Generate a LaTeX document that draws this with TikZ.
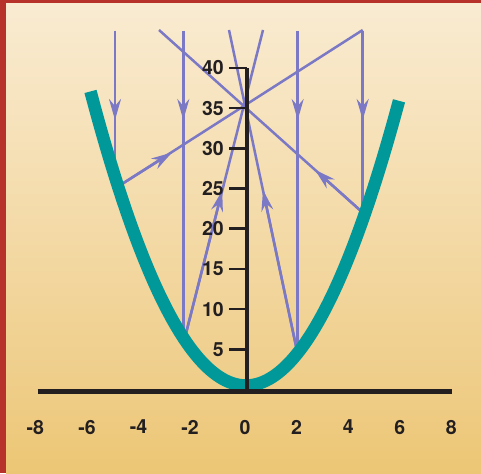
\documentclass[tikz,border=0pt]{standalone}
\usepackage{fontspec}
\setmainfont{TeX Gyre Heros}
\usetikzlibrary{arrows.meta}
\definecolor{raycol}{RGB}{123,121,197}
\definecolor{parcol}{RGB}{0,152,152}
\definecolor{inkcol}{RGB}{35,31,32}
\definecolor{framecol}{RGB}{182,50,42}
\definecolor{bgA}{RGB}{247,228,192}
\definecolor{bgB}{RGB}{239,206,138}
\definecolor{bgC}{RGB}{228,179,62}
\pgfdeclareverticalshading{bgshade}{100bp}{color(0bp)=(bgC); color(35bp)=(bgB); color(65bp)=(bgA); color(100bp)=(white)}
\begin{document}
\begin{tikzpicture}[x=1pt,y=-1pt,
  ray/.style={draw=raycol, line width=2.5pt},
  arr/.style={-{Stealth[length=21pt,width=12pt,inset=7pt]}},
  parabola/.style={draw=parcol, line width=12.5pt},
  axisline/.style={draw=inkcol, line width=4pt},
  xaxisline/.style={draw=inkcol, line width=4.7pt},
  tickline/.style={draw=inkcol, line width=2.5pt},
  lab/.style={text=inkcol, font=\fontsize{19.5}{20}\selectfont\bfseries, inner sep=0pt, text depth=0pt}]
\useasboundingbox (0,0) rectangle (481,473);
% background and frame
\shade[shading=bgshade] (6,3) rectangle (481,473);
\fill[framecol] (0,0) rectangle (6,473);
\fill[framecol] (0,0) rectangle (481,3);

% rays: top points, vertical ends, arrow tips
\coordinate (T1) at (115,31);    \coordinate (V1) at (115,176.8);   \coordinate (H1) at (115,120);
\coordinate (T2) at (183.3,31);  \coordinate (V2) at (183.3,337.7); \coordinate (H2) at (183.3,120);
\coordinate (T3) at (297.7,31);  \coordinate (V3) at (297.7,353);   \coordinate (H3) at (297.7,120);
\coordinate (T4) at (362.7,31);  \coordinate (V4) at (362.7,219.9); \coordinate (H4) at (362.7,120);
\foreach \i in {1,2,3,4} {
  \draw[ray] (T\i) -- (V\i);
  \draw[ray, arr] (T\i) -- (H\i);
}
% reflected rays
\coordinate (RA) at (118,186.5);   \coordinate (EA) at (362.7,30); \coordinate (KA) at (172,152.5);
\coordinate (RB) at (364.6,214.3); \coordinate (EB) at (159,30);   \coordinate (KB) at (315,169.8);
\coordinate (RC) at (184.5,339.3); \coordinate (EC) at (263,30);   \coordinate (KC) at (222.2,190.5);
\coordinate (RD) at (297.5,353.2); \coordinate (ED) at (229,30);   \coordinate (KD) at (263,190);
\foreach \r in {A,B,C,D} {
  \draw[ray] (R\r) -- (E\r);
  \draw[ray, arr] (R\r) -- (K\r);
}

% parabola
\draw[parabola] plot[domain=90.5:399, samples=150] (\x, {385.5-0.01216*(\x-246)*(\x-246)});

% axes on top
\coordinate (ytop) at (246.5,67.9);
\coordinate (origin) at (246.5,391.5);
\draw[axisline] (origin) -- (ytop);
\foreach \v in {5,10,...,40} {
  \coordinate (tk\v) at (229,{389.5-8.04*\v});
  \coordinate (ta\v) at (246.5,{389.5-8.04*\v});
  \draw[tickline] (tk\v) -- (ta\v);
  \node[lab, anchor=east] (yl\v) at (224,{389.5-8.04*\v}) {\v};
}
\coordinate (xl) at (37.5,391.5);
\coordinate (xr) at (451.5,391.5);
\draw[xaxisline] (xl) -- (xr);
\foreach \v/\t in {-8/\llap{-}8,-6/\llap{-}6,-4/\llap{-}4,-2/\llap{-}2,0/0,2/2,4/4,6/6,8/8} {
  \node[lab] (xl\v) at ({245+25.8*\v},427) {\t};
}
\end{tikzpicture}
\end{document}
